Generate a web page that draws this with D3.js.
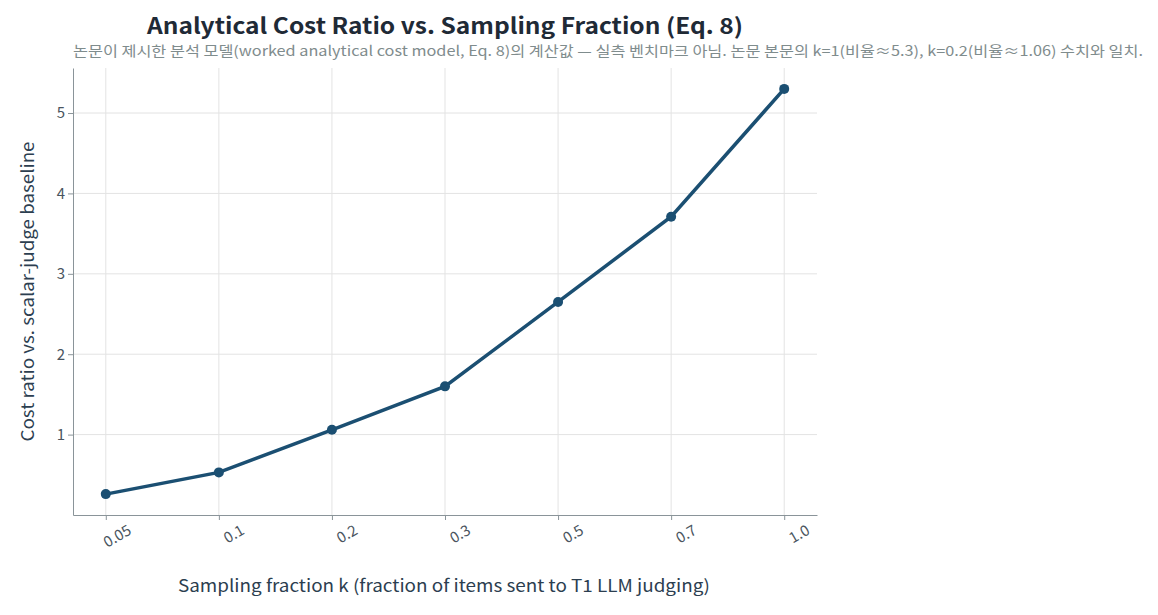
<!DOCTYPE html>
<meta charset="utf-8">
<script src="https://d3js.org/d3.v7.min.js"></script>
<style>
body { margin: 0; background: #fff; font-family: "Noto Sans CJK KR", "Noto Sans", sans-serif; }
</style>
<body>
<script>
// Data
var fractions = ["0.05", "0.1", "0.2", "0.3", "0.5", "0.7", "1.0"];
var costRatio = [0.26, 0.53, 1.06, 1.60, 2.65, 3.71, 5.30];
var yTicks = [1, 2, 3, 4, 5];

var W = 1158, H = 615;
var margin = {top: 68, left: 73, right: 341, bottom: 100};
var width = W - margin.left - margin.right,
    height = H - margin.top - margin.bottom;

var svg = d3.select("body").append("svg")
  .attr("width", W).attr("height", H);

svg.append("text")
  .attr("x", 147).attr("y", 34)
  .attr("textLength", 596).attr("lengthAdjust", "spacingAndGlyphs")
  .attr("font-size", 22).attr("font-weight", "bold").attr("fill", "#1f2a36")
  .text("Analytical Cost Ratio vs. Sampling Fraction (Eq. 8)");

svg.append("text")
  .attr("x", 73).attr("y", 56)
  .attr("textLength", 1070).attr("lengthAdjust", "spacingAndGlyphs")
  .attr("font-size", 14).attr("fill", "#7f8c8d")
  .text("논문이 제시한 분석 모델(worked analytical cost model, Eq. 8)의 계산값 — 실측 벤치마크 아님. 논문 본문의 k=1(비율≈5.3), k=0.2(비율≈1.06) 수치와 일치.");

var g = svg.append("g")
  .attr("transform", "translate(" + margin.left + "," + margin.top + ")");

var x = d3.scalePoint().domain(fractions).range([0, width]).padding(0.29);
var y = d3.scaleLinear().domain([0, 5.56]).range([height, 0]);

// gridlines
g.selectAll(".hgrid").data(yTicks).enter().append("line")
  .attr("x1", 0).attr("x2", width)
  .attr("y1", function(d) { return y(d); }).attr("y2", function(d) { return y(d); })
  .attr("stroke", "#e3e3e3");
g.selectAll(".vgrid").data(fractions).enter().append("line")
  .attr("x1", function(d) { return x(d); }).attr("x2", function(d) { return x(d); })
  .attr("y1", 0).attr("y2", height)
  .attr("stroke", "#e3e3e3");

// axes
var xAxis = g.append("g").attr("transform", "translate(0," + height + ")")
  .call(d3.axisBottom(x).tickSize(5).tickSizeOuter(0));
var yAxis = g.append("g").call(d3.axisLeft(y).tickValues(yTicks).tickFormat(d3.format("d")).tickSize(5).tickSizeOuter(0));
[xAxis, yAxis].forEach(function(a) {
  a.select(".domain").attr("stroke", "#8a9499");
  a.selectAll(".tick line").attr("stroke", "#8a9499");
  a.selectAll("text").attr("font-size", 15).attr("fill", "#4a5560")
    .attr("font-family", "Noto Sans CJK KR, Noto Sans, sans-serif");
});
xAxis.selectAll("text")
  .attr("transform", "rotate(-30)").attr("text-anchor", "end")
  .attr("dx", "0.9em").attr("dy", "1.4em");

// axis labels
svg.append("text")
  .attr("x", 178).attr("y", 592)
  .attr("textLength", 532).attr("lengthAdjust", "spacingAndGlyphs")
  .attr("font-size", 17).attr("fill", "#2c3e50")
  .text("Sampling fraction k (fraction of items sent to T1 LLM judging)");
svg.append("text")
  .attr("transform", "translate(34," + (margin.top + height / 2) + ") rotate(-90)")
  .attr("text-anchor", "middle").attr("font-size", 17).attr("fill", "#2c3e50")
  .attr("textLength", 300).attr("lengthAdjust", "spacingAndGlyphs")
  .text("Cost ratio vs. scalar-judge baseline");

// line + points
var line = d3.line()
  .x(function(d, i) { return x(fractions[i]); })
  .y(function(d) { return y(d); });
g.append("path").datum(costRatio)
  .attr("d", line).attr("fill", "none")
  .attr("stroke", "#1b4f72").attr("stroke-width", 3.5);
g.selectAll(".pt").data(costRatio).enter().append("circle")
  .attr("cx", function(d, i) { return x(fractions[i]); })
  .attr("cy", function(d) { return y(d); })
  .attr("r", 5).attr("fill", "#1b4f72");
</script>
</body>
</html>
